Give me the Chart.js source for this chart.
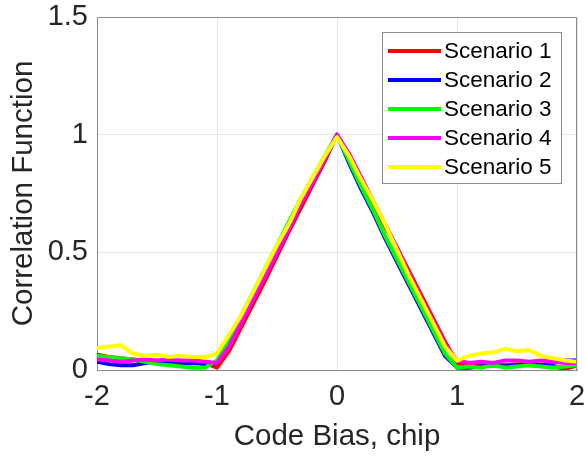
<!DOCTYPE html>
<html>
<head>
<meta charset="utf-8">
<script src="https://cdn.jsdelivr.net/npm/chart.js@4"></script>
<style>
html,body{margin:0;padding:0;background:#fff;}
#wrap{width:585px;height:459px;}
</style>
</head>
<body>
<div id="wrap"><canvas id="c" width="585" height="459"></canvas></div>
<script>
// Code bias (chip)
const codeBias = [-2.0,-1.9,-1.8,-1.7,-1.6,-1.5,-1.4,-1.3,-1.2,-1.1,-1.0,-0.9,-0.8,-0.7,-0.6,-0.5,-0.4,-0.3,-0.2,-0.1,0.0,0.1,0.2,0.3,0.4,0.5,0.6,0.7,0.8,0.9,1.0,1.1,1.2,1.3,1.4,1.5,1.6,1.7,1.8,1.9,2.0];
const scenario1 = [0.065,0.055,0.05,0.045,0.04,0.035,0.035,0.03,0.03,0.03,0.01,0.08,0.18,0.28,0.38,0.485,0.59,0.69,0.79,0.89,1.0,0.905,0.805,0.71,0.61,0.52,0.42,0.32,0.22,0.12,0.03,0.02,0.03,0.025,0.02,0.025,0.02,0.02,0.015,0.005,0.02];
const scenario2 = [0.035,0.025,0.02,0.02,0.03,0.035,0.03,0.025,0.03,0.025,0.03,0.11,0.21,0.31,0.42,0.52,0.62,0.72,0.81,0.9,1.0,0.88,0.77,0.67,0.56,0.46,0.36,0.26,0.16,0.06,0.01,0.01,0.015,0.02,0.015,0.02,0.025,0.02,0.03,0.04,0.04];
const scenario3 = [0.06,0.055,0.05,0.045,0.035,0.025,0.02,0.015,0.01,0.01,0.04,0.13,0.23,0.33,0.43,0.53,0.63,0.73,0.82,0.91,1.0,0.89,0.78,0.68,0.57,0.47,0.37,0.27,0.17,0.07,0.01,0.015,0.01,0.02,0.01,0.015,0.02,0.015,0.01,0.015,0.02];
const scenario4 = [0.045,0.04,0.035,0.04,0.045,0.04,0.045,0.04,0.04,0.035,0.03,0.1,0.2,0.3,0.4,0.5,0.6,0.71,0.8,0.9,1.0,0.92,0.82,0.72,0.62,0.52,0.41,0.31,0.21,0.11,0.04,0.03,0.035,0.03,0.04,0.04,0.035,0.04,0.035,0.03,0.03];
const scenario5 = [0.095,0.1,0.105,0.07,0.06,0.065,0.055,0.06,0.055,0.055,0.07,0.15,0.23,0.33,0.43,0.53,0.62,0.73,0.82,0.91,0.99,0.91,0.81,0.72,0.62,0.51,0.4,0.3,0.2,0.1,0.04,0.06,0.07,0.075,0.09,0.08,0.085,0.06,0.05,0.04,0.035];
const seriesNames = ['Scenario 1','Scenario 2','Scenario 3','Scenario 4','Scenario 5'];
const seriesColors = ['#ff0000','#0000ff','#00ff00','#ff00ff','#ffff00'];
const xTickLabels = ['-2','-1','0','1','2'];
const yTickLabels = ['0','0.5','1','1.5'];
const allSeries = [scenario1, scenario2, scenario3, scenario4, scenario5];

const FONT = "'Liberation Sans', Arial, Helvetica, sans-serif";
const TXT = '#262626';

const datasets = allSeries.map((s, k) => ({
  label: seriesNames[k],
  data: codeBias.map((x, i) => ({x: x, y: s[i]})),
  borderColor: seriesColors[k],
  backgroundColor: seriesColors[k],
  borderWidth: 4,
  pointRadius: 0,
  tension: 0,
  fill: false,
  borderJoinStyle: 'round',
  borderCapStyle: 'round',
  order: allSeries.length - k
}));

function zeroPad(s) {
  s.paddingTop = 0; s.paddingBottom = 0; s.paddingLeft = 0; s.paddingRight = 0;
}

const boxLegend = {
  id: 'boxLegend',
  afterDraw(chart) {
    const ctx = chart.ctx;
    const ca = chart.chartArea;
    ctx.save();
    // axes box (top and right)
    ctx.strokeStyle = '#8a8a8a';
    ctx.lineWidth = 1;
    ctx.beginPath();
    ctx.moveTo(Math.round(ca.left) + 0.5, Math.round(ca.top) + 0.5);
    ctx.lineTo(Math.round(ca.right) - 0.5, Math.round(ca.top) + 0.5);
    ctx.lineTo(Math.round(ca.right) - 0.5, Math.round(ca.bottom));
    ctx.stroke();
    // legend
    const bx = 382.5, by = 32.5, bw = 179, bh = 151;
    ctx.fillStyle = '#ffffff';
    ctx.fillRect(bx, by, bw, bh);
    ctx.strokeStyle = '#8c8c8c';
    ctx.strokeRect(bx, by, bw, bh);
    ctx.font = '22.5px ' + FONT;
    ctx.textBaseline = 'middle';
    ctx.textAlign = 'left';
    chart.data.datasets.forEach((ds, i) => {
      const y = 51 + 29 * i;
      ctx.strokeStyle = ds.borderColor;
      ctx.lineWidth = 4;
      ctx.beginPath();
      ctx.moveTo(388, y);
      ctx.lineTo(441, y);
      ctx.stroke();
      ctx.fillStyle = '#000000';
      ctx.fillText(ds.label, 444, y + 1);
    });
    ctx.restore();
  }
};

new Chart(document.getElementById('c'), {
  type: 'line',
  data: { datasets: datasets },
  options: {
    responsive: false,
    animation: false,
    devicePixelRatio: 1,
    layout: { padding: { top: 17, right: 8, left: 0, bottom: 0 } },
    plugins: { legend: { display: false }, tooltip: { enabled: false } },
    scales: {
      x: {
        type: 'linear', min: -2, max: 2,
        afterFit: (s) => { s.height = 89; zeroPad(s); },
        afterBuildTicks: (s) => { s.ticks = xTickLabels.map(v => ({value: parseFloat(v)})); },
        ticks: {
          padding: 10, color: TXT, font: { family: FONT, size: 29 },
          maxRotation: 0, autoSkip: false,
          callback: (v) => { const i = xTickLabels.map(parseFloat).indexOf(v); return i >= 0 ? xTickLabels[i] : String(v); }
        },
        grid: { color: '#e6e6e6', drawTicks: false },
        border: { color: '#8a8a8a', width: 1 },
        title: { display: true, text: 'Code Bias, chip', color: TXT, font: { family: FONT, size: 29.5 }, padding: { top: 0, bottom: 4 } }
      },
      y: {
        type: 'linear', min: 0, max: 1.5,
        afterFit: (s) => { s.width = 97; zeroPad(s); },
        afterBuildTicks: (s) => { s.ticks = yTickLabels.map(v => ({value: parseFloat(v)})); },
        ticks: {
          padding: 9, color: TXT, font: { family: FONT, size: 29 },
          autoSkip: false,
          callback: (v) => { const i = yTickLabels.map(parseFloat).indexOf(v); return i >= 0 ? yTickLabels[i] : String(v); }
        },
        grid: { color: '#e6e6e6', drawTicks: false },
        border: { color: '#8a8a8a', width: 1 },
        title: { display: true, text: 'Correlation Function', color: TXT, font: { family: FONT, size: 29.5 }, padding: { top: 6, bottom: 0 } }
      }
    }
  },
  plugins: [boxLegend]
});
</script>
</body>
</html>
